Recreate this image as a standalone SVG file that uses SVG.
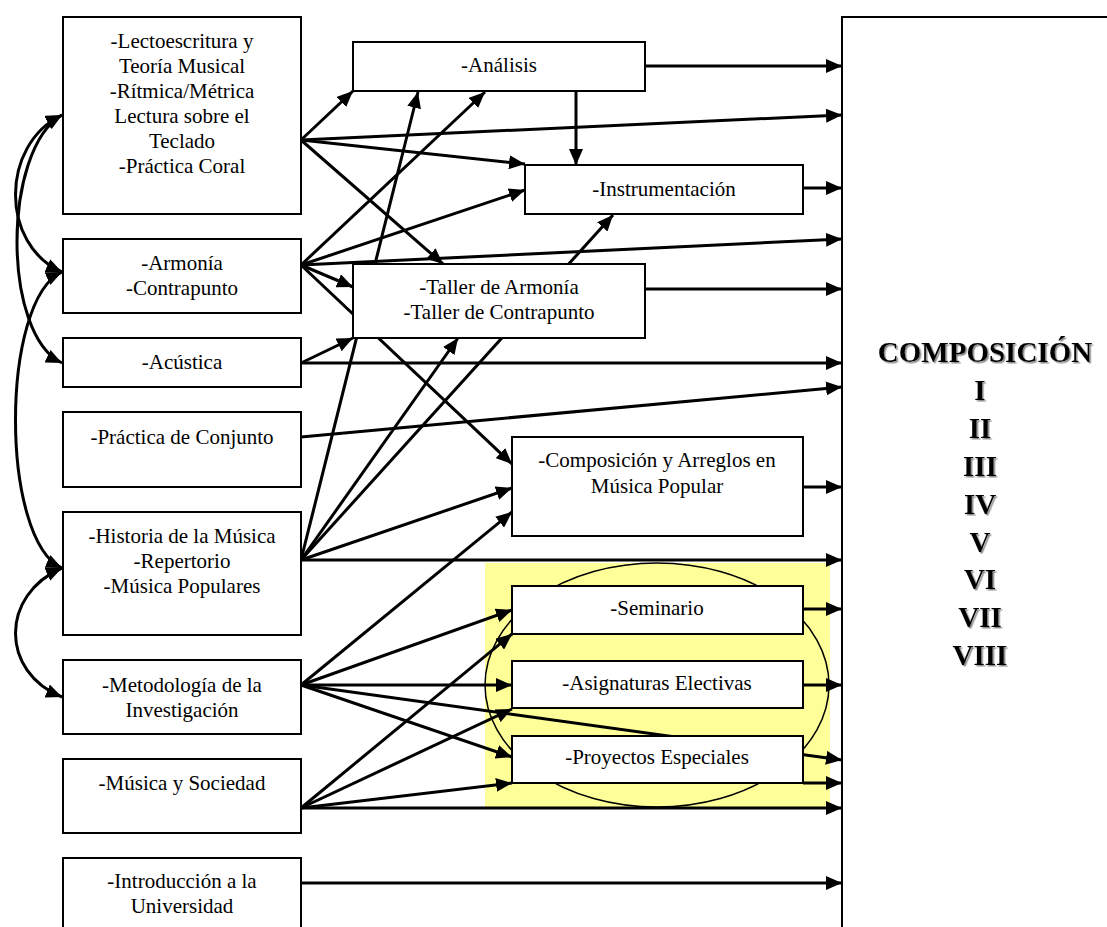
<svg xmlns="http://www.w3.org/2000/svg" width="1107" height="927" viewBox="0 0 1107 927">
<style>
.box{fill:#fff;stroke:#000;stroke-width:2}
.t{font-family:"Liberation Serif","Times New Roman",serif;font-size:21px;text-anchor:middle;fill:#000}
.c{stroke:#000;stroke-width:3;fill:none;marker-end:url(#ah)}
.d{stroke:#000;stroke-width:3;fill:none;marker-end:url(#ah);marker-start:url(#ah)}
.big{font-family:"Liberation Serif","Times New Roman",serif;font-weight:bold;font-size:29px;text-anchor:middle;fill:#000;filter:url(#sh)}
</style>
<defs>
<marker id="ah" viewBox="0 0 16 14" refX="16" refY="7" markerWidth="16" markerHeight="14" markerUnits="userSpaceOnUse" orient="auto-start-reverse">
<path d="M0,0 L16,7 L0,14 z" fill="#000"/>
</marker>
<filter id="sh" x="-10%" y="-30%" width="130%" height="170%">
<feDropShadow dx="1.5" dy="1.5" stdDeviation="0.6" flood-color="#8a8a8a" flood-opacity="1"/>
</filter>
</defs>
<rect width="1107" height="927" fill="#fff"/>
<g id="group-electivas">
<rect x="485" y="563" width="345" height="244" fill="#FFFF99"/>
<ellipse cx="657" cy="685" rx="172" ry="122" fill="#FFFF99" stroke="#000" stroke-width="1.5"/>
</g>
<g id="connectors">
<path class="d" d="M62,115 C0,145 0,245 62,272"/>
<path class="d" d="M62,115 C2,150 2,335 62,363"/>
<path class="d" d="M62,272 C0,300 0,540 62,568"/>
<path class="d" d="M62,568 C0,595 0,672 62,697"/>
<line class="c" x1="301" y1="140" x2="353" y2="91"/>
<line class="c" x1="301" y1="140" x2="842" y2="115"/>
<line class="c" x1="301" y1="140" x2="525" y2="164"/>
<line class="c" x1="301" y1="140" x2="443" y2="264"/>
<line class="c" x1="301" y1="265" x2="485" y2="92"/>
<line class="c" x1="301" y1="265" x2="525" y2="190"/>
<line class="c" x1="301" y1="265" x2="842" y2="239"/>
<line class="c" x1="301" y1="265" x2="353" y2="287"/>
<line class="c" x1="301" y1="265" x2="512" y2="464"/>
<line class="c" x1="301" y1="363" x2="353" y2="338"/>
<line class="c" x1="301" y1="363" x2="842" y2="363"/>
<line class="c" x1="301" y1="437" x2="842" y2="387"/>
<line class="c" x1="301" y1="560" x2="418" y2="92"/>
<line class="c" x1="301" y1="560" x2="458" y2="338"/>
<line class="c" x1="301" y1="560" x2="613" y2="215"/>
<line class="c" x1="301" y1="560" x2="512" y2="488"/>
<line class="c" x1="301" y1="560" x2="842" y2="560"/>
<line class="c" x1="301" y1="685" x2="512" y2="512"/>
<line class="c" x1="301" y1="685" x2="512" y2="610"/>
<line class="c" x1="301" y1="685" x2="512" y2="685"/>
<line class="c" x1="301" y1="685" x2="512" y2="757"/>
<line class="c" x1="301" y1="685" x2="842" y2="760"/>
<line class="c" x1="301" y1="808" x2="512" y2="634"/>
<line class="c" x1="301" y1="808" x2="512" y2="709"/>
<line class="c" x1="301" y1="808" x2="512" y2="783"/>
<line class="c" x1="301" y1="808" x2="842" y2="808"/>
<line class="c" x1="301" y1="883" x2="842" y2="883"/>
<line class="c" x1="645" y1="66" x2="842" y2="66"/>
<line class="c" x1="576" y1="91" x2="576" y2="165"/>
<line class="c" x1="803" y1="188" x2="842" y2="188"/>
<line class="c" x1="645" y1="289" x2="842" y2="289"/>
<line class="c" x1="803" y1="487" x2="842" y2="487"/>
<line class="c" x1="803" y1="609" x2="842" y2="609"/>
<line class="c" x1="803" y1="685" x2="842" y2="685"/>
<line class="c" x1="803" y1="783" x2="842" y2="783"/>
</g>
<g id="lectoescritura">
<rect class="box" x="63" y="17" width="238" height="197"/>
<text class="t" x="182" y="48">-Lectoescritura y</text>
<text class="t" x="182" y="73">Teoría Musical</text>
<text class="t" x="182" y="98">-Rítmica/Métrica</text>
<text class="t" x="182" y="123">Lectura sobre el</text>
<text class="t" x="182" y="148">Teclado</text>
<text class="t" x="182" y="173">-Práctica Coral</text>
</g>
<g id="armonia">
<rect class="box" x="63" y="239" width="238" height="74"/>
<text class="t" x="182" y="270">-Armonía</text>
<text class="t" x="182" y="295">-Contrapunto</text>
</g>
<g id="acustica">
<rect class="box" x="63" y="338" width="238" height="49"/>
<text class="t" x="182" y="369">-Acústica</text>
</g>
<g id="practica-conjunto">
<rect class="box" x="63" y="412" width="238" height="75"/>
<text class="t" x="182" y="444">-Práctica de Conjunto</text>
</g>
<g id="historia">
<rect class="box" x="63" y="512" width="238" height="123"/>
<text class="t" x="182" y="543">-Historia de la Música</text>
<text class="t" x="182" y="568">-Repertorio</text>
<text class="t" x="182" y="593">-Música Populares</text>
</g>
<g id="metodologia">
<rect class="box" x="63" y="660" width="238" height="74"/>
<text class="t" x="182" y="692">-Metodología de la</text>
<text class="t" x="182" y="717">Investigación</text>
</g>
<g id="musica-sociedad">
<rect class="box" x="63" y="759" width="238" height="74"/>
<text class="t" x="182" y="790">-Música y Sociedad</text>
</g>
<g id="introduccion">
<rect class="box" x="63" y="858" width="238" height="90"/>
<text class="t" x="182" y="888">-Introducción a la</text>
<text class="t" x="182" y="913">Universidad</text>
</g>
<g id="analisis">
<rect class="box" x="353" y="42" width="292" height="49"/>
<text class="t" x="499" y="72">-Análisis</text>
</g>
<g id="instrumentacion">
<rect class="box" x="525" y="165" width="278" height="49"/>
<text class="t" x="664" y="196">-Instrumentación</text>
</g>
<g id="taller">
<rect class="box" x="353" y="264" width="292" height="74"/>
<text class="t" x="499" y="294">-Taller de Armonía</text>
<text class="t" x="499" y="319">-Taller de Contrapunto</text>
</g>
<g id="composicion-arreglos">
<rect class="box" x="512" y="437" width="291" height="99"/>
<text class="t" x="657" y="467">-Composición y Arreglos en</text>
<text class="t" x="657" y="493">Música Popular</text>
</g>
<g id="seminario">
<rect class="box" x="512" y="586" width="291" height="48"/>
<text class="t" x="657" y="615">-Seminario</text>
</g>
<g id="asignaturas-electivas">
<rect class="box" x="512" y="661" width="291" height="47"/>
<text class="t" x="657" y="690">-Asignaturas Electivas</text>
</g>
<g id="proyectos-especiales">
<rect class="box" x="512" y="736" width="291" height="47"/>
<text class="t" x="657" y="764">-Proyectos Especiales</text>
</g>
<g id="composicion">
<rect class="box" x="842" y="17" width="300" height="940"/>
<text class="big" x="985" y="362">COMPOSICIÓN</text>
<text class="big" x="980" y="400">I</text>
<text class="big" x="980" y="438">II</text>
<text class="big" x="980" y="476">III</text>
<text class="big" x="980" y="514">IV</text>
<text class="big" x="980" y="552">V</text>
<text class="big" x="980" y="589">VI</text>
<text class="big" x="980" y="627">VII</text>
<text class="big" x="980" y="665">VIII</text>
</g>
</svg>
